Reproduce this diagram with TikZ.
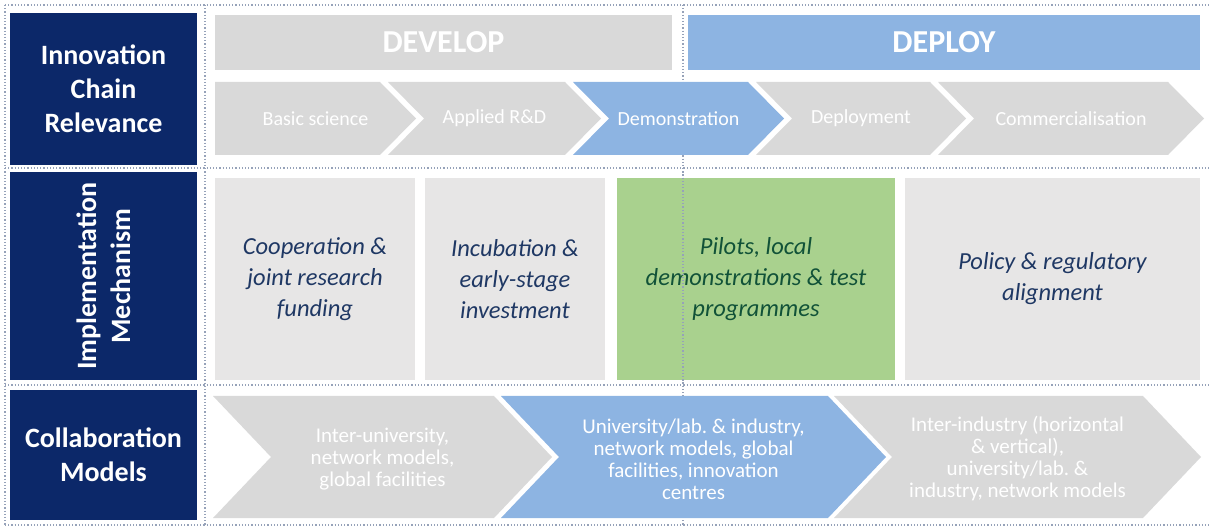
\documentclass[tikz,border=0pt]{standalone}
\usepackage{fontspec}
\setmainfont{Carlito}
\usetikzlibrary{positioning, calc}

\definecolor{navy}{RGB}{12,40,105}
\definecolor{phasegray}{RGB}{217,217,217}
\definecolor{phaseblue}{RGB}{141,180,226}
\definecolor{mechgray}{RGB}{231,230,230}
\definecolor{mechgreen}{RGB}{169,209,142}
\definecolor{mechtext}{RGB}{31,56,100}
\definecolor{gridgray}{RGB}{150,162,185}

\tikzset{
  labelbox/.style={fill=navy, text=white, align=center, inner sep=0pt,
    font=\bfseries\fontsize{28}{34}\selectfont, minimum width=187pt},
  phasebar/.style={text=white, inner sep=0pt, minimum height=55pt,
    font=\bfseries\fontsize{32}{38}\selectfont},
  mechbox/.style={fill=mechgray, text=mechtext, align=center, inner sep=0pt,
    minimum height=202pt, font=\itshape\fontsize{24.5}{31}\selectfont},
  steptext/.style={text=white, font=\fontsize{20}{24}\selectfont},
  modeltext/.style={text=white, align=center, font=\fontsize{21}{22}\selectfont},
  gridline/.style={draw=gridgray, dotted, line width=1.2pt}
}

\begin{document}
\begin{tikzpicture}[x=1pt, y=-1pt]
  \useasboundingbox (0,0) rectangle (1211,529);

  % dotted grid
  \foreach \y in {5,168,385,525}
    \draw[gridline] (5,\y) -- (1211,\y);
  \foreach \x in {5,205,683}
    \draw[gridline] (\x,5) -- (\x,525);

  % row headers
  \node[labelbox, minimum height=152pt] (chain) at (103.5,89) {Innovation\\Chain\\Relevance};
  \node[labelbox, rotate=90, minimum width=208pt, minimum height=187pt] (mech) at (103.5,276) {Implementation\\Mechanism};
  \node[labelbox, minimum height=130pt] (collab) at (103.5,455) {Collaboration\\Models};

  % phases
  \node[phasebar, fill=phasegray, minimum width=457pt] (develop) at (443.5,42.5) {DEVELOP};
  \node[phasebar, fill=phaseblue, minimum width=512pt] (deploy) at (944,42.5) {DEPLOY};

  % innovation chain steps
  \foreach \l/\r/\fl/\col/\txt/\nm in {
      215/380/0/phasegray/{Basic science}/basic,
      388/565/1/phasegray/{Applied R\&D}/applied,
      573/748/1/phaseblue/{Demonstration}/demo,
      756/930/1/phasegray/{Deployment}/deployment,
      938/1168/1/phasegray/{Commercialisation}/commerce} {
    \fill[\col] (\l,82) -- (\r,82) -- (\r+36,118.5) -- (\r,155) -- (\l,155) -- (\l+36*\fl,118.5) -- cycle;
    \node[steptext] (\nm) at ({(\l+\r+36)/2},118.5) {\txt};
  }

  % mechanisms
  \node[mechbox, minimum width=200pt] (coop) at (315,279) {Cooperation \&\\joint research\\funding};
  \node[mechbox, minimum width=180pt] (incub) at (515,279) {Incubation \&\\early-stage\\investment};
  \node[mechbox, fill=mechgreen, text=mechtext!70!black!80!green, minimum width=278pt] (pilots) at (756,279) {Pilots, local\\demonstrations \& test\\programmes};
  \node[mechbox, minimum width=295pt] (policy) at (1052.5,279) {Policy \& regulatory\\alignment};
  \draw[gridline] (683,168) -- (683,385);

  % collaboration models
  \foreach \l/\r/\col/\txt/\nm in {
      213/494/phasegray/{Inter-university,\\network models,\\global facilities}/inter,
      501/828/phaseblue/{University/lab.\ \& industry,\\network models, global\\facilities, innovation\\centres}/univ,
      834/1143/phasegray/{Inter-industry (horizontal\\\& vertical),\\university/lab.\ \&\\industry, network models}/industry} {
    \fill[\col] (\l,396) -- (\r,396) -- (\r+58,457) -- (\r,518) -- (\l,518) -- (\l+58,457) -- cycle;
    \node[modeltext] (\nm) at ({(\l+\r+58)/2},459) {\txt};
  }
\end{tikzpicture}
\end{document}
